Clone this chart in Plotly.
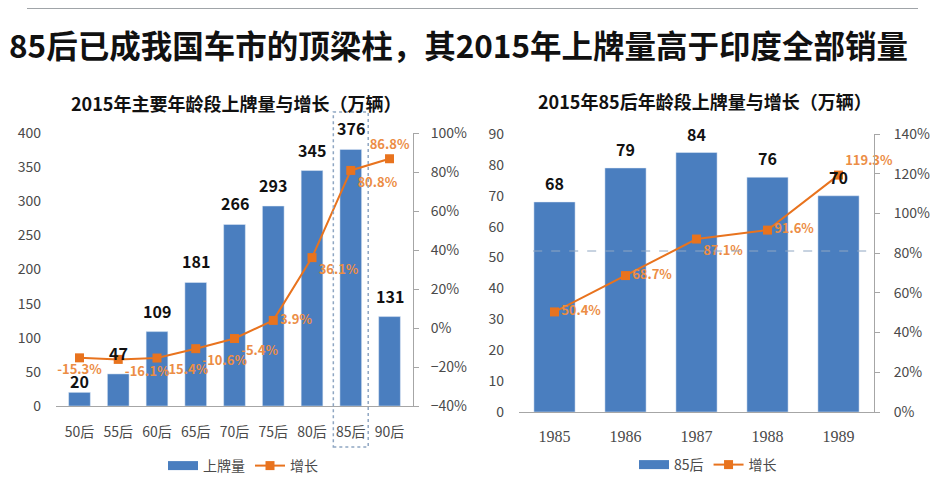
import plotly.graph_objects as go

# ---------------- data ----------------
title_main = "85后已成我国车市的顶梁柱，其2015年上牌量高于印度全部销量"
left_title = "2015年主要年龄段上牌量与增长（万辆）"
right_title = "2015年85后年龄段上牌量与增长（万辆）"

left_categories = ["50后", "55后", "60后", "65后", "70后", "75后", "80后", "85后", "90后"]
left_volume = [20, 47, 109, 181, 266, 293, 345, 376, 131]
left_growth = [-0.153, -0.161, -0.154, -0.106, -0.054, 0.039, 0.361, 0.808, 0.868]

right_categories = ["1985", "1986", "1987", "1988", "1989"]
right_volume = [68, 79, 84, 76, 70]
right_growth = [0.504, 0.687, 0.871, 0.916, 1.193]

left_bar_name = "上牌量"
right_bar_name = "85后"
growth_name = "增长"

# ---------------- label placement (style) ----------------
left_growth_pos = ["bottom center", "bottom right", "bottom right", "bottom right", "bottom right",
                   "middle right", "bottom right", "bottom right", "top center"]
right_growth_pos = ["middle right", "middle right", "bottom right", "middle right", "top right"]
left_label_shift = [-3, 7, 7, 7, 7, 7, 7, 7, 7]
right_label_shift = [5, 5, 5, 5, 5]

# ---------------- styles ----------------
BLUE = "#4A7EBF"
ORANGE = "#E8731E"
LABEL_ORANGE = "#EC8D45"
TICK = "#4A4A4A"
AXIS = "#A6A6A6"
FONT = "Noto Sans CJK SC"

# page body adds an 8px offset; map reference pixels to the figure's paper
OFF = 8
W, H = 944 - OFF, 485 - OFF
def px_x(p): return (p - OFF) / W
def px_y(p): return 1 - (p - OFF) / H

fig = go.Figure()

bar_label_font = dict(family=FONT, size=16, color="#111111", weight="bold")
growth_label_font = dict(family=FONT, size=13, color=LABEL_ORANGE, weight="bold")

# ---- Left chart ----
fig.add_trace(go.Bar(
    x=left_categories, y=left_volume, name=left_bar_name,
    marker=dict(color=BLUE), width=0.56, showlegend=False, hoverinfo="x+y",
    xaxis="x", yaxis="y",
))
fig.add_trace(go.Scatter(   # legend swatch for bars
    x=[None], y=[None], mode="lines", name=left_bar_name,
    line=dict(color=BLUE, width=9), xaxis="x", yaxis="y", legend="legend",
))
fig.add_trace(go.Scatter(
    x=left_categories, y=left_growth, name=growth_name, mode="lines+markers+text",
    line=dict(color=ORANGE, width=2), marker=dict(symbol="square", size=9, color=ORANGE),
    text=[f"{v*100:.1f}%" for v in left_growth], textposition=left_growth_pos,
    textfont=growth_label_font, cliponaxis=False, xaxis="x", yaxis="y2", legend="legend",
))
# bar value labels (category axis: annotation x is the category index)
for i, (v, s) in enumerate(zip(left_volume, left_label_shift)):
    fig.add_annotation(x=i, y=v, xref="x", yref="y", text=str(v), showarrow=False,
                       yanchor="bottom", yshift=s, font=bar_label_font)

# ---- Right chart ----
fig.add_trace(go.Bar(
    x=right_categories, y=right_volume, name=right_bar_name,
    marker=dict(color=BLUE), width=0.58, showlegend=False, hoverinfo="x+y",
    xaxis="x2", yaxis="y3",
))
fig.add_trace(go.Scatter(
    x=[None], y=[None], mode="lines", name=right_bar_name,
    line=dict(color=BLUE, width=9), xaxis="x2", yaxis="y3", legend="legend2",
))
fig.add_trace(go.Scatter(
    x=right_categories, y=right_growth, name=growth_name, mode="lines+markers+text",
    line=dict(color=ORANGE, width=2), marker=dict(symbol="square", size=9, color=ORANGE),
    text=[f"{v*100:.1f}%" for v in right_growth], textposition=right_growth_pos,
    textfont=growth_label_font, cliponaxis=False, xaxis="x2", yaxis="y4", legend="legend2",
))
for i, (v, s) in enumerate(zip(right_volume, right_label_shift)):
    fig.add_annotation(x=i, y=v, xref="x2", yref="y3", text=str(v), showarrow=False,
                       yanchor="bottom", yshift=s, font=bar_label_font)

tickfont = dict(family=FONT, size=14, color=TICK)
serif_tickfont = dict(family="Liberation Serif", size=16, color=TICK)

fig.update_layout(
    width=W, height=H,
    margin=dict(l=0, r=0, t=0, b=0, autoexpand=False),
    paper_bgcolor="white", plot_bgcolor="rgba(0,0,0,0)",
    font=dict(family=FONT, color=TICK),
    xaxis=dict(type="category", categoryorder="array", categoryarray=left_categories,
               domain=[px_x(56), px_x(413)], anchor="y", tickfont=tickfont, automargin=False,
               showline=True, linecolor=AXIS, linewidth=1, ticks="", showgrid=False,
               ticklabelstandoff=13),
    yaxis=dict(domain=[px_y(406), px_y(133)], anchor="x", range=[0, 400], dtick=50,
               tickfont=tickfont, showgrid=False, zeroline=False, showline=False,
               ticklabelstandoff=14, automargin=False),
    yaxis2=dict(overlaying="y", side="right", anchor="x", range=[-0.4, 1.0], dtick=0.2,
                tickformat=".0%", tickfont=tickfont, showgrid=False, zeroline=False,
                showline=True, linecolor=AXIS, ticks="outside", ticklen=5, tickcolor=AXIS,
                ticklabelstandoff=9, automargin=False),
    xaxis2=dict(type="category", categoryorder="array", categoryarray=right_categories,
                domain=[px_x(519), px_x(874)], anchor="y3", tickfont=serif_tickfont,
                showline=True, linecolor=AXIS, linewidth=1, ticks="", showgrid=False,
                ticklabelstandoff=10, automargin=False),
    yaxis3=dict(domain=[px_y(412), px_y(134)], anchor="x2", range=[0, 90], dtick=10,
                tickfont=tickfont, showgrid=False, zeroline=False, showline=False,
                ticklabelstandoff=14, automargin=False),
    yaxis4=dict(overlaying="y3", side="right", anchor="x2", range=[0, 1.4], dtick=0.2,
                tickformat=".0%", tickfont=tickfont, showgrid=False, zeroline=False,
                showline=True, linecolor=AXIS, ticks="outside", ticklen=5, tickcolor=AXIS,
                ticklabelstandoff=11, automargin=False),
    legend=dict(orientation="h", x=px_x(243), y=px_y(466), xanchor="center", yanchor="middle",
                font=dict(family=FONT, size=14, color=TICK), bgcolor="rgba(0,0,0,0)",
                itemwidth=30, tracegroupgap=0),
    legend2=dict(orientation="h", x=px_x(708), y=px_y(465), xanchor="center", yanchor="middle",
                 font=dict(family=FONT, size=14, color=TICK), bgcolor="rgba(0,0,0,0)",
                 itemwidth=30, tracegroupgap=0),
    showlegend=True,
)

# Titles
fig.add_annotation(text=f"<b>{title_main}</b>", x=px_x(458), y=px_y(44), xref="paper", yref="paper",
                   showarrow=False, font=dict(family=FONT, size=31.5, color="#111111"),
                   xanchor="center", yanchor="middle")
fig.add_annotation(text=f"<b>{left_title}</b>", x=px_x(236), y=px_y(103), xref="paper", yref="paper",
                   showarrow=False, font=dict(family=FONT, size=18, color="#111111"),
                   xanchor="center", yanchor="middle")
fig.add_annotation(text=f"<b>{right_title}</b>", x=px_x(705), y=px_y(101), xref="paper", yref="paper",
                   showarrow=False, font=dict(family=FONT, size=18, color="#111111"),
                   xanchor="center", yanchor="middle")

# Top rule
fig.add_shape(type="line", xref="paper", yref="paper", x0=px_x(27), x1=px_x(918),
              y0=px_y(8), y1=px_y(8), line=dict(color="#A0A4A8", width=2))

# Highlight box around 85后
hi = left_categories.index("85后")
fig.add_shape(type="rect", xref="x", yref="paper", x0=hi - 0.45, x1=hi + 0.45,
              y0=px_y(447), y1=px_y(112), line=dict(color="#8FA6C2", width=1.5, dash="dot"),
              fillcolor="rgba(0,0,0,0)", layer="above")

# Dashed reference line in right chart
fig.add_shape(type="line", xref="x2 domain", yref="paper", x0=0.04, x1=1.0,
              y0=px_y(251), y1=px_y(251), line=dict(color="#8FA6C2", width=1, dash="dash"),
              layer="above")

fig.write_html("out.html")
